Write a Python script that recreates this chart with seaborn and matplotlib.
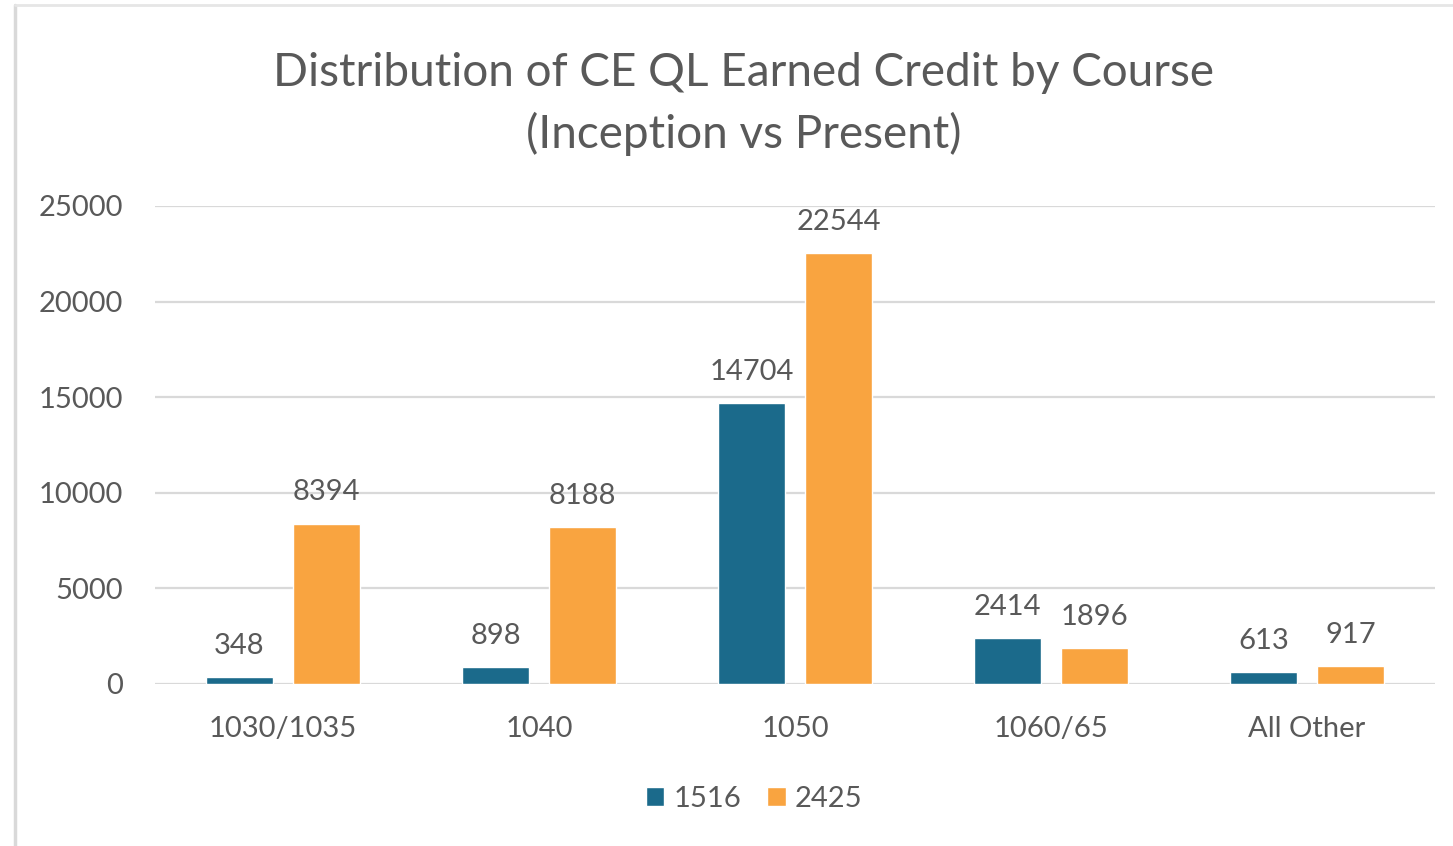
import pandas as pd
import matplotlib.pyplot as plt
import matplotlib.lines as mlines
import seaborn as sns

# Data
courses = ['1030/1035', '1040', '1050', '1060/65', 'All Other']
vals_1516 = [348, 898, 14704, 2414, 613]
vals_2425 = [8394, 8188, 22544, 1896, 917]
series = ['1516', '2425']

df = pd.DataFrame({
    'course': courses * 2,
    'year': [series[0]] * len(courses) + [series[1]] * len(courses),
    'credit': vals_1516 + vals_2425,
})

sns.set_theme(style="white")
plt.rcParams['font.family'] = ['Lato', 'DejaVu Sans']

text_col = '#595959'
palette = {'1516': '#1b6a8b', '2425': '#f9a440'}
fs = 21

fig = plt.figure(figsize=(14.53, 8.46), dpi=100)
ax = fig.add_axes([155 / 1453, 1 - 684 / 846, 1280 / 1453, 478 / 846])

sns.barplot(data=df, x='course', y='credit', hue='year', palette=palette,
            width=0.68, gap=0.23, saturation=1, ax=ax, zorder=3)

ax.set_ylim(0, 25000)
ax.set_xlim(-0.5, 4.5)
ax.set_yticks(range(0, 25001, 5000))
ax.yaxis.grid(True, color='#d9d9d9', linewidth=1.6, zorder=0)
ax.set_axisbelow(True)
for s in ax.spines.values():
    s.set_visible(False)
ax.tick_params(axis='y', length=0, pad=23, labelsize=fs, labelcolor=text_col)
ax.tick_params(axis='x', length=0, pad=23, labelsize=fs, labelcolor=text_col)
ax.set_xlabel('')
ax.set_ylabel('')

for cont in ax.containers:
    ax.bar_label(cont, padding=13, fontsize=fs, color=text_col)

leg = ax.legend(loc='center', bbox_to_anchor=(0.468, -0.24), ncol=2, frameon=False,
                fontsize=fs, handlelength=0.65, handleheight=0.65, handletextpad=0.3,
                columnspacing=0.9, labelcolor=text_col)

fig.text(0.512, 1 - 104 / 846, 'Distribution of CE QL Earned Credit by Course\n(Inception vs Present)',
         ha='center', va='center', fontsize=33, color=text_col, linespacing=1.5)

# light chart frame
fig.add_artist(mlines.Line2D([15 / 1453, 15 / 1453], [0, 1 - 5 / 846], color='#d9d9d9', lw=2.5,
                             transform=fig.transFigure))
fig.add_artist(mlines.Line2D([15 / 1453, 1], [1 - 5 / 846, 1 - 5 / 846], color='#e6e6e6', lw=2,
                             transform=fig.transFigure))

fig.savefig('out.png', dpi=100)
